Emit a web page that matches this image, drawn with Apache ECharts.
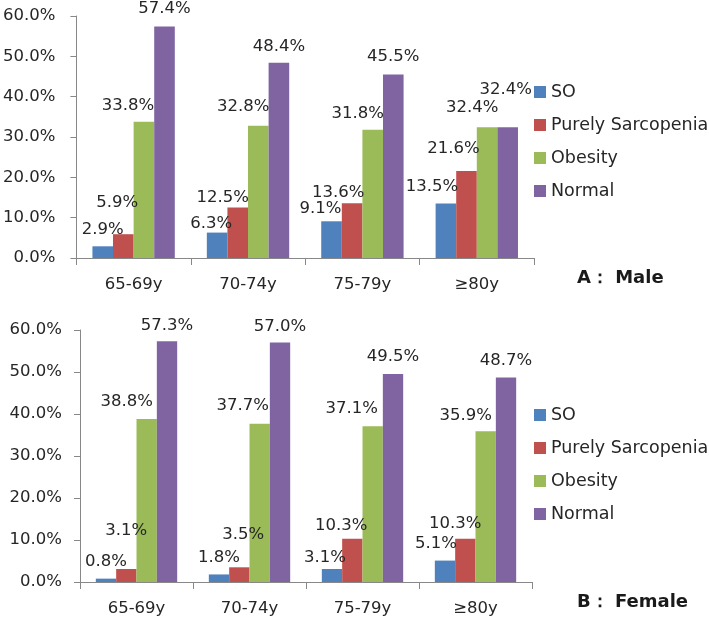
<!DOCTYPE html>
<html>
<head>
<meta charset="utf-8">
<script src="https://cdn.jsdelivr.net/npm/echarts@6/dist/echarts.min.js"></script>
<style>
  html, body { margin: 0; padding: 0; background: #fff; }
  #chart { width: 709px; height: 621px; }
</style>
</head>
<body>
<div id="chart"></div>
<script>
// age groups
const categories = ['65-69y', '70-74y', '75-79y', '≥80y'];
const seriesNames = ['SO', 'Purely Sarcopenia', 'Obesity', 'Normal'];
const colors = ['#4F81BD', '#C0504D', '#9BBB59', '#8064A2'];

// A: Male (%)
const maleSO = [2.9, 6.3, 9.1, 13.5];
const malePurely = [5.9, 12.5, 13.6, 21.6];
const maleObesity = [33.8, 32.8, 31.8, 32.4];
const maleNormal = [57.4, 48.4, 45.5, 32.4];

// B: Female (%)
const femaleSO = [0.8, 1.8, 3.1, 5.1];
const femalePurely = [3.1, 3.5, 10.3, 10.3];
const femaleObesity = [38.8, 37.7, 37.1, 35.9];
const femaleNormal = [57.3, 57.0, 49.5, 48.7];

const yTicks = { min: 0, max: 60, interval: 10 };

// label nudges [dx, dy] - the original labels were moved by hand
const maleNudge = [
  [[0, -1], [-6, 7], [-11, 3], [-14, -1]],
  [[-6, -16], [-15, 6], [-14, 5], [-13, -7]],
  [[-16, 0], [-15, -3], [-15, -1], [-15, -4]],
  [[0, -2], [0, -1], [0, -2], [-2, -22]]
];
const femaleNudge = [
  [[0, -1], [0, -1], [-7, 4], [-9, -1]],
  [[0, -23], [4, -17], [-11, 2], [-10, 0]],
  [[-20, -2], [-17, -2], [-21, -2], [-20, 0]],
  [[0, 0], [0, 0], [0, -2], [0, -1]]
];

const FONT = 'DejaVu Sans';
const axisColor = '#888888';
const textColor = '#262626';

function makeXAxis(gridIndex) {
  return {
    type: 'category',
    gridIndex: gridIndex,
    data: categories,
    axisLine: { lineStyle: { color: axisColor } },
    axisTick: { show: true, length: 7, lineStyle: { color: axisColor } },
    axisLabel: { color: textColor, fontFamily: FONT, fontSize: 16.5, margin: 18 }
  };
}

function makeYAxis(gridIndex, margin) {
  return {
    type: 'value',
    gridIndex: gridIndex,
    min: yTicks.min,
    max: yTicks.max,
    interval: yTicks.interval,
    splitLine: { show: false },
    axisLine: { show: true, lineStyle: { color: axisColor } },
    axisTick: { show: true, length: 6, lineStyle: { color: axisColor } },
    axisLabel: {
      color: textColor, fontFamily: FONT, fontSize: 16.5, margin: margin,
      formatter: function (v) { return v.toFixed(1) + '%'; }
    }
  };
}

function makeSeries(name, values, idx, gridIndex, nudge) {
  return {
    name: name,
    type: 'bar',
    xAxisIndex: gridIndex,
    yAxisIndex: gridIndex,
    barGap: 0,
    barCategoryGap: '28%',
    itemStyle: { color: colors[idx] },
    label: {
      show: true,
      position: 'top',
      distance: 7,
      color: textColor,
      fontFamily: FONT,
      fontSize: 16.5,
      formatter: function (p) { return p.value.toFixed(1) + '%'; }
    },
    data: values.map(function (v, i) {
      return { value: v, label: { offset: nudge[idx][i] } };
    })
  };
}

function makeLegend(top) {
  return {
    orient: 'vertical',
    left: 529,
    top: top,
    icon: 'rect',
    itemWidth: 12,
    itemHeight: 12,
    itemGap: 13,
    data: seriesNames,
    textStyle: { color: textColor, fontFamily: FONT, fontSize: 17.5, lineHeight: 20 }
  };
}

const chart = echarts.init(document.getElementById('chart'), null, { renderer: 'canvas' });

const titleStyle = { fontFamily: FONT, fontSize: 18, fontWeight: 'bold', color: '#1a1a1a' };

chart.setOption({
  backgroundColor: '#fff',
  animation: false,
  title: [
    { text: 'A： Male', left: 577, top: 269, padding: 0, textStyle: titleStyle },
    { text: 'B： Female', left: 577, top: 593, padding: 0, textStyle: titleStyle }
  ],
  legend: [makeLegend(77), makeLegend(400)],
  grid: [
    { left: 75, right: 175, top: 16, height: 242 },
    { left: 80, right: 177, top: 330, height: 252 }
  ],
  xAxis: [makeXAxis(0), makeXAxis(1)],
  yAxis: [makeYAxis(0, 21), makeYAxis(1, 18)],
  series: [
    makeSeries(seriesNames[0], maleSO, 0, 0, maleNudge),
    makeSeries(seriesNames[1], malePurely, 1, 0, maleNudge),
    makeSeries(seriesNames[2], maleObesity, 2, 0, maleNudge),
    makeSeries(seriesNames[3], maleNormal, 3, 0, maleNudge),
    makeSeries(seriesNames[0], femaleSO, 0, 1, femaleNudge),
    makeSeries(seriesNames[1], femalePurely, 1, 1, femaleNudge),
    makeSeries(seriesNames[2], femaleObesity, 2, 1, femaleNudge),
    makeSeries(seriesNames[3], femaleNormal, 3, 1, femaleNudge)
  ]
});
</script>
</body>
</html>
